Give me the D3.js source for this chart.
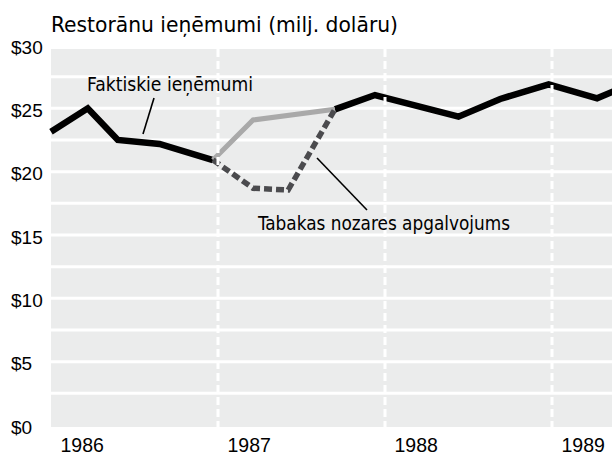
<!DOCTYPE html>
<html>
<head>
<meta charset="utf-8">
<script src="https://cdn.jsdelivr.net/npm/d3@7"></script>
<style>
  body { margin: 0; background: #fff; }
  svg { display: block; }
</style>
</head>
<body>
<div id="chart"></div>
<script>
const W = 612, H = 456;
const plot = { left: 51, right: 612, top: 49, bottom: 427 };

// data (fractional years, millions of dollars)
const years  = [1986.0, 1986.22, 1986.40, 1986.65, 1986.97, 1987.21, 1987.42, 1987.70, 1987.94, 1988.44, 1988.69, 1988.98, 1989.27, 1989.37];
const actual = [23.15, 25.0, 22.5, 22.19, 20.92, 24.08, null, 24.92, 26.05, 24.34, 25.74, 26.9, 25.79, 26.35];
const claim  = [null, null, null, null, 20.92, 18.69, 18.55, 24.92, null, null, null, null, null, null];
const banStart = 1986.97, banEnd = 1987.70;

const yTicks = [0, 5, 10, 15, 20, 25, 30];
const gridTicks = [2.5, 5, 7.5, 10, 12.5, 15, 17.5, 20, 22.5, 25, 27.5];
const yearTicks = [1986, 1987, 1988, 1989];
const yearBounds = [1987, 1988, 1989];

const title = "Restorānu ieņēmumi (milj. dolāru)";
const actualLabel = "Faktiskie ieņēmumi";
const claimLabel = "Tabakas nozares apgalvojums";

const x = d3.scaleLinear().domain([1986, 1989]).range([51, 552]);
const y = d3.scaleLinear().domain([0, 30]).range([425, 45]);

const svg = d3.select("#chart")
    .append("svg")
    .attr("width", W)
    .attr("height", H);

// background
svg.append("rect")
    .attr("x", plot.left)
    .attr("y", plot.top)
    .attr("width", plot.right - plot.left)
    .attr("height", plot.bottom - plot.top)
    .attr("fill", "#ebecec");

// horizontal white grid
svg.append("g")
    .selectAll("line")
    .data(gridTicks)
    .enter()
    .append("line")
    .attr("x1", plot.left)
    .attr("x2", plot.right)
    .attr("y1", d => y(d))
    .attr("y2", d => y(d))
    .attr("stroke", "#fff")
    .attr("stroke-width", 3);

const pts = years.map((yr, i) => ({ year: yr, actual: actual[i], claim: claim[i] }));

const line = d3.line()
    .x(d => x(d.year))
    .y(d => y(d.value));

const before = pts.filter(d => d.year <= banStart).map(d => ({ year: d.year, value: d.actual }));
const after = pts.filter(d => d.year >= banEnd).map(d => ({ year: d.year, value: d.actual }));
const during = pts.filter(d => d.year >= banStart && d.year <= banEnd && d.actual != null)
    .map(d => ({ year: d.year, value: d.actual }));
const claimed = pts.filter(d => d.claim != null).map(d => ({ year: d.year, value: d.claim }));

[before, after].forEach(seg => {
    svg.append("path")
        .datum(seg)
        .attr("d", line)
        .attr("fill", "none")
        .attr("stroke", "#000")
        .attr("stroke-width", 6.5)
        .attr("stroke-linejoin", "miter");
});

svg.append("path")
    .datum(during)
    .attr("d", line)
    .attr("fill", "none")
    .attr("stroke", "#a9a9a9")
    .attr("stroke-width", 5);

svg.append("path")
    .datum(claimed)
    .attr("d", line)
    .attr("fill", "none")
    .attr("stroke", "#4b4b4e")
    .attr("stroke-width", 5.5)
    .attr("stroke-dasharray", "8,4");

// vertical dashed year dividers (on top of the lines)
svg.append("g")
    .selectAll("line")
    .data(yearBounds)
    .enter()
    .append("line")
    .attr("x1", d => x(d))
    .attr("x2", d => x(d))
    .attr("y1", plot.top)
    .attr("y2", plot.bottom)
    .attr("stroke", "#fff")
    .attr("stroke-width", 3)
    .attr("stroke-dasharray", "8,4");

// y axis
const yAxisG = svg.append("g")
    .attr("transform", "translate(11,2)")
    .call(d3.axisLeft(y).tickValues(yTicks).tickSize(0).tickFormat(d => "$" + d));
yAxisG.select(".domain").remove();
yAxisG.selectAll("text")
    .attr("x", 0)
    .attr("text-anchor", "start")
    .style("font-family", "'Liberation Sans', Arial, sans-serif")
    .style("font-size", "19px")
    .style("fill", "#000");

// x axis
const xAxisG = svg.append("g")
    .attr("transform", "translate(9,452)")
    .call(d3.axisBottom(x).tickValues(yearTicks).tickSize(0).tickFormat(d3.format("d")));
xAxisG.select(".domain").remove();
xAxisG.selectAll("text")
    .attr("y", 0)
    .attr("dy", 0)
    .attr("text-anchor", "start")
    .style("font-family", "'Liberation Sans', Arial, sans-serif")
    .style("font-size", "19.5px")
    .style("fill", "#000");

// title
svg.append("text")
    .attr("x", 51)
    .attr("y", 32)
    .attr("textLength", 347)
    .attr("lengthAdjust", "spacingAndGlyphs")
    .style("font-family", "'DejaVu Sans Condensed', 'DejaVu Sans', sans-serif")
    .style("font-size", "22px")
    .text(title);

// annotations
svg.append("line")
    .attr("x1", 154).attr("y1", 98)
    .attr("x2", 143).attr("y2", 134)
    .attr("stroke", "#000")
    .attr("stroke-width", 1.6);

svg.append("text")
    .attr("x", 87)
    .attr("y", 90.5)
    .attr("textLength", 166)
    .attr("lengthAdjust", "spacingAndGlyphs")
    .style("font-family", "'DejaVu Sans Condensed', 'DejaVu Sans', sans-serif")
    .style("font-size", "20px")
    .text(actualLabel);

svg.append("line")
    .attr("x1", 317).attr("y1", 158)
    .attr("x2", 367).attr("y2", 210)
    .attr("stroke", "#000")
    .attr("stroke-width", 1.6);

svg.append("text")
    .attr("x", 258)
    .attr("y", 230)
    .attr("textLength", 252)
    .attr("lengthAdjust", "spacingAndGlyphs")
    .style("font-family", "'DejaVu Sans Condensed', 'DejaVu Sans', sans-serif")
    .style("font-size", "19px")
    .text(claimLabel);
</script>
</body>
</html>
